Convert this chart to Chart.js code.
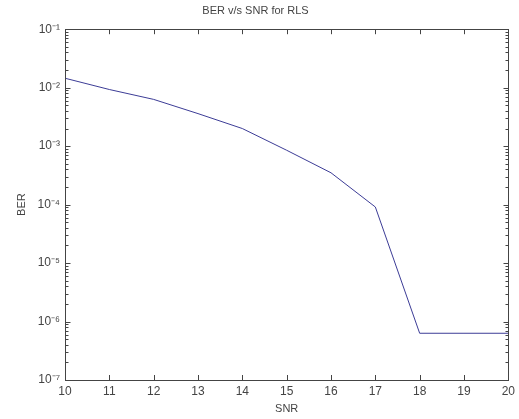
<!DOCTYPE html>
<html>
<head>
<meta charset="utf-8">
<script src="https://cdn.jsdelivr.net/npm/chart.js@4"></script>
<style>
  html, body { margin: 0; padding: 0; background: #fff; }
  #wrap { width: 519px; height: 419px; }
</style>
</head>
<body>
<div id="wrap"><canvas id="grafico" width="519" height="419"></canvas></div>
<script>
const snr = [10, 11, 12, 13, 14, 15, 16, 17, 18, 19, 20]
const ber = [1.45e-2, 9.3e-3, 6.3e-3, 3.6e-3, 2.0e-3, 8.5e-4, 3.5e-4, 9.1e-5, 6.3e-7, 6.3e-7, 6.3e-7]
const xTicks = [10, 11, 12, 13, 14, 15, 16, 17, 18, 19, 20]
const decadas = [-7, -6, -5, -4, -3, -2, -1]
const supers = { "-": "⁻", "1": "¹", "2": "²", "3": "³", "4": "⁴", "5": "⁵", "6": "⁶", "7": "⁷", "0": "⁰" }

const cinza = "#444"
const fonte = "'Liberation Sans', Arial, sans-serif"

// marcas do eixo y: 1..9 em cada década
function ticksLog() {
    const lista = []
    decadas.forEach(e => {
        if (e === decadas[decadas.length - 1]) { lista.push({ value: Math.pow(10, e), major: true }); return }
        for (let m = 1; m < 10; m++) lista.push({ value: m * Math.pow(10, e), major: m === 1 })
    })
    return lista
}

// caixa e marcas de escala para dentro, estilo matlab
const caixa = {
    id: "caixa",
    afterDraw(chart) {
        const c = chart.ctx
        const a = chart.chartArea
        const esq = Math.round(a.left) + 0.5
        const dir = Math.round(a.right) + 0.5
        c.save()
        c.strokeStyle = cinza
        c.lineWidth = 1
        c.beginPath()
        xTicks.forEach(v => {
            const px = Math.round(chart.scales.x.getPixelForValue(v)) + 0.5
            c.moveTo(px, a.bottom); c.lineTo(px, a.bottom - 5)
            c.moveTo(px, a.top); c.lineTo(px, a.top + 5)
        })
        ticksLog().forEach(t => {
            const py = Math.round(chart.scales.y.getPixelForValue(t.value)) + 0.5
            const len = t.major ? 5 : 3
            c.moveTo(esq, py); c.lineTo(esq + len, py)
            c.moveTo(dir, py); c.lineTo(dir - len, py)
        })
        c.stroke()
        c.strokeRect(esq, Math.round(a.top) + 0.5,
            Math.round(a.right - a.left), Math.round(a.bottom - a.top))
        c.restore()
    }
}

new Chart(document.getElementById("grafico"), {
    type: "line",
    data: {
        datasets: [{
            data: snr.map((x, i) => ({ x: x, y: ber[i] })),
            borderColor: "#3c3c96",
            borderWidth: 1,
            pointRadius: 0,
            tension: 0,
            fill: false
        }]
    },
    options: {
        responsive: false,
        animation: false,
        layout: { padding: { right: 8, left: 0, bottom: 0 } },
        plugins: {
            legend: { display: false },
            tooltip: { enabled: false },
            title: {
                display: true,
                text: "BER v/s SNR for RLS",
                color: cinza,
                font: { family: fonte, size: 11, weight: "normal" },
                padding: { top: 4, bottom: 12 }
            }
        },
        scales: {
            x: {
                type: "linear",
                min: 10,
                max: 20,
                afterBuildTicks(scale) { scale.ticks = xTicks.map(v => ({ value: v })) },
                afterFit(scale) { scale.height = 39 },
                grid: { display: false, drawTicks: false },
                border: { display: false },
                ticks: { color: cinza, font: { family: fonte, size: 12 }, padding: 4, maxRotation: 0 },
                title: { display: true, text: "SNR", color: cinza, font: { family: fonte, size: 11 }, padding: { top: 0, bottom: 3 } }
            },
            y: {
                type: "logarithmic",
                min: 1e-7,
                max: 1e-1,
                afterBuildTicks(scale) { scale.ticks = decadas.map(e => ({ value: Math.pow(10, e), major: true })) },
                afterFit(scale) { scale.width = 65 },
                grid: { display: false, drawTicks: false },
                border: { display: false },
                ticks: {
                    autoSkip: false,
                    color: cinza,
                    font: { family: fonte, size: 12 },
                    padding: 5,
                    callback(v) {
                        const e = Math.round(Math.log10(v))
                        return "10" + String(e).split("").map(ch => supers[ch]).join("")
                    }
                },
                title: { display: true, text: "BER", color: cinza, font: { family: fonte, size: 11 }, padding: { top: 15, bottom: 0 } }
            }
        }
    },
    plugins: [caixa]
})
</script>
</body>
</html>
